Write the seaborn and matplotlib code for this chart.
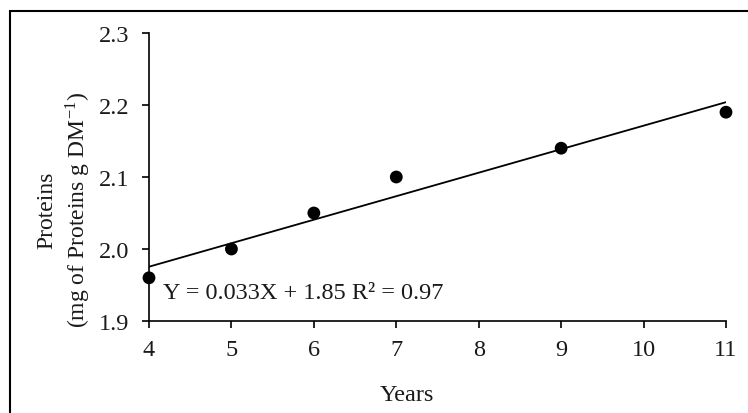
import numpy as np
import pandas as pd
import matplotlib
matplotlib.use("Agg")
import matplotlib.pyplot as plt
import seaborn as sns
from matplotlib.patches import Rectangle

years = [4, 5, 6, 7, 9, 11]
proteins = [1.96, 2.00, 2.05, 2.10, 2.14, 2.19]
x_ticks = [4, 5, 6, 7, 8, 9, 10, 11]
y_ticks = [1.9, 2.0, 2.1, 2.2, 2.3]
equation = "Y = 0.033X + 1.85 R² = 0.97"

sns.set_theme(style="ticks")
plt.rcParams['font.family'] = ['Liberation Serif', 'DejaVu Serif']
plt.rcParams['mathtext.fontset'] = 'stix'

df = pd.DataFrame({"Years": years, "Proteins": proteins})

fig = plt.figure(figsize=(7.48, 4.14), dpi=100)
ax = fig.add_axes([149/748, 1 - 322/414, (726-149)/748, (322-34)/414])

sns.regplot(data=df, x="Years", y="Proteins", ax=ax, ci=None, truncate=True,
            scatter_kws=dict(s=85, color="black", edgecolor="none", alpha=1,
                             zorder=3, clip_on=False),
            line_kws=dict(color="black", lw=1.3))

ax.set_xlim(4, 11)
ax.set_ylim(1.9, 2.3)
ax.set_xticks(x_ticks)
ax.set_yticks(y_ticks)
ax.set_yticklabels([f"{v:.1f}" for v in y_ticks])
ax.set_xlabel("")
ax.set_ylabel("")
for s in ["top", "right"]:
    ax.spines[s].set_visible(False)
for s in ["left", "bottom"]:
    ax.spines[s].set_linewidth(1.2)
    ax.spines[s].set_color("black")
ax.tick_params(axis="both", direction="out", length=5, width=1.2, colors="black",
               labelsize=17.5, labelcolor="#1a1a1a")
ax.tick_params(axis="y", pad=9)
ax.tick_params(axis="x", pad=8)

ax.text(4.17, 1.94, equation, ha="left", va="center", fontsize=17.5, color="#1a1a1a")

fig.text(407/748, 1 - 396/414, "Years", ha="center", va="center", fontsize=17.5, color="#1a1a1a")
fig.text(64.5/748, 1 - 210/414, "Proteins\n(mg of Proteins g DM$^{\\mathregular{-1}}$)",
         ha="center", va="center", rotation=90, multialignment="center",
         fontsize=17, color="#1a1a1a", linespacing=1.3)

fig.patches.append(Rectangle((10/748, -0.1), 1.2, 1 - 12/414 + 0.1,
                             transform=fig.transFigure, fill=False,
                             edgecolor="black", lw=1.5, clip_on=False))

fig.savefig("out.png", dpi=100)
